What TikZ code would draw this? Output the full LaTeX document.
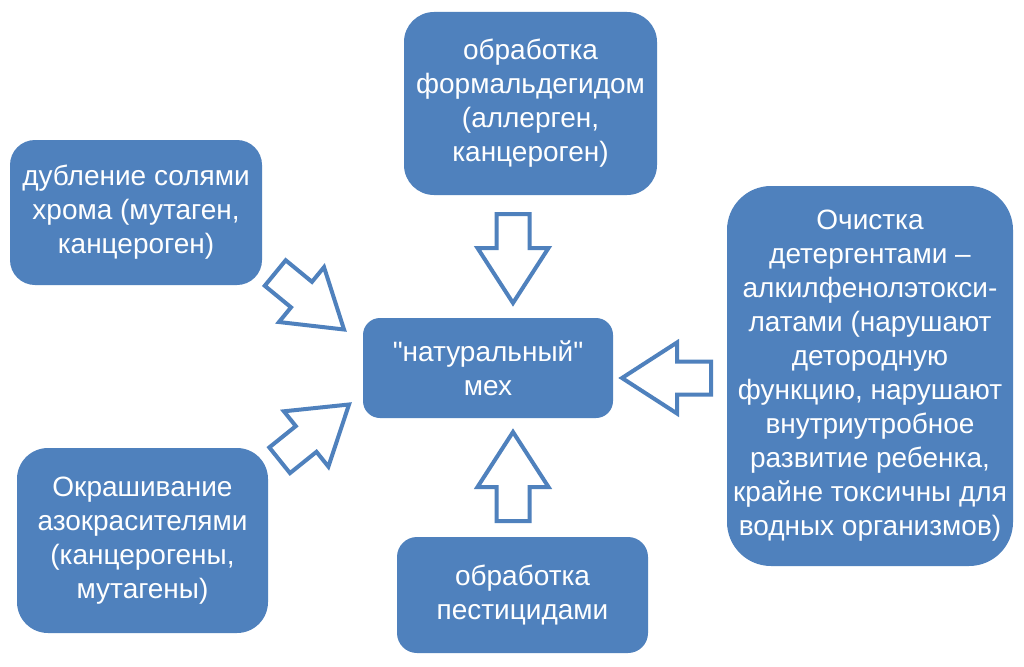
\documentclass[tikz,border=0pt]{standalone}
\usepackage{fontspec}
\setmainfont{Liberation Sans}[Ligatures=TeXOff]
\usepackage{tikz}

\definecolor{boxblue}{HTML}{4F81BD}

\tikzset{
	box/.style={fill=boxblue, text=white, align=center, inner sep=0pt,
		font=\fontsize{28}{34}\selectfont, rounded corners=#1},
	%block arrow, tip at the origin, pointing along x
	blockarrow/.pic={
		\draw[boxblue, fill=white, line width=4pt, line join=miter]
			(0,0) -- (-55,35.5) -- (-55,16.5) -- (-89,16.5)
			-- (-89,-16.5) -- (-55,-16.5) -- (-55,-35.5) -- cycle;
	}
}

\begin{document}
\begin{tikzpicture}[x=1pt,y=-1pt]
	\useasboundingbox[fill=white] (0,0) rectangle (1024,666);
	
	%boxes
	\node[box=17pt, minimum width=250pt, minimum height=100pt] (fur) at (488,368)
		{"натуральный"\\мех};
	\node[box=30pt, minimum width=253pt, minimum height=183pt] (formal) at (530.5,103.5)
		{обработка\\формальдегидом\\(аллерген,\\канцероген)};
	\node[box=25pt, minimum width=252pt, minimum height=145pt] (chrome) at (136,212.5)
		{дубление солями\\хрома (мутаген,\\канцероген)};
	\node[box=31pt, minimum width=251pt, minimum height=185pt] (azo) at (142.5,540.5)
		{Окрашивание\\азокрасителями\\(канцерогены,\\мутагены)};
	\node[box=20pt, minimum width=251pt, minimum height=116pt] (pest) at (522.5,595)
		{обработка\\пестицидами};
	\node[box=44pt, minimum width=286pt, minimum height=380pt] (deterg) at (870,376)
		{Очистка\\детергентами –\\алкилфенолэтокси-\\латами (нарушают\\детородную\\функцию, нарушают\\внутриутробное\\развитие ребенка,\\крайне токсичны для\\водных организмов)};
	
	%arrow tips
	\coordinate (tformal) at (513,303);
	\coordinate (tpest) at (513,432);
	\coordinate (tdeterg) at (622,378);
	\coordinate (tchrome) at (344,329.5);
	\coordinate (tazo) at (349,404.5);
	
	%block arrows
	\pic[rotate=-90] at (tformal) {blockarrow};		%from top
	\pic[rotate=90] at (tpest) {blockarrow};		%from bottom
	\pic[rotate=180] at (tdeterg) {blockarrow};		%from right
	\pic[rotate=-39.4] at (tchrome) {blockarrow};	%upper left
	\pic[rotate=38.8] at (tazo) {blockarrow};		%lower left
\end{tikzpicture}
\end{document}
